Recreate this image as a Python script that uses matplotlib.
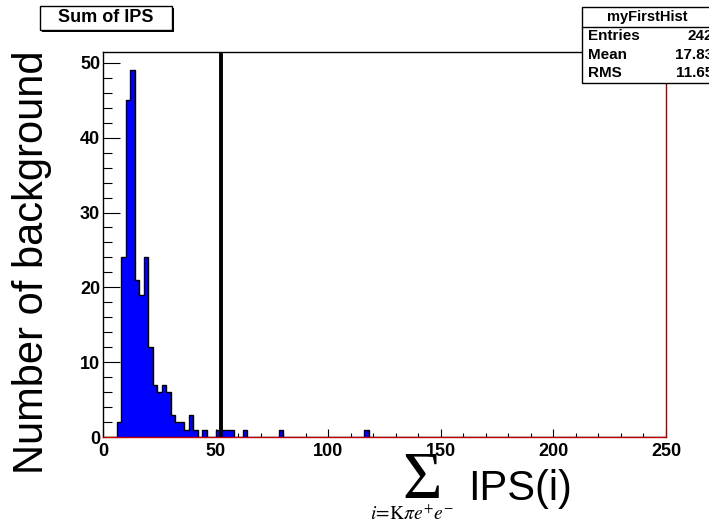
import matplotlib
matplotlib.use("Agg")
import matplotlib.pyplot as plt
import numpy as np
from matplotlib.patches import Rectangle
from matplotlib.ticker import MultipleLocator

# histogram: 125 bins of width 2 from 0 to 250
bin_edges = np.arange(0, 252, 2)
counts = np.zeros(125)
filled_bins = [6, 8, 10, 12, 14, 16, 18, 20, 22, 24, 26, 28, 30, 32, 34, 36, 38, 40,
               44, 50, 52, 54, 56, 62, 78, 116]
filled_counts = [2, 24, 45, 49, 21, 19, 24, 12, 7, 6, 7, 6, 3, 2, 2, 1, 3, 1,
                 1, 1, 1, 1, 1, 1, 1, 1]
for lo, c in zip(filled_bins, filled_counts):
    counts[lo // 2] = c

cut_value = 52.3
stats_names = ["Entries", "Mean", "RMS"]
stats_values = ["242", "17.83", "11.65"]

W, H = 709, 526
fig = plt.figure(figsize=(W / 100, H / 100), dpi=100)


def fx(px):
    return px / W


def fy(py):
    return 1 - py / H


sans = "Liberation Sans"
ax = fig.add_axes([fx(103), fy(437), fx(666) - fx(103), fy(52) - fy(437)])

ax.stairs(counts, bin_edges, fill=True, color="#0000ff", linewidth=0, zorder=2)
ax.stairs(counts, bin_edges, color="black", linewidth=1.0, zorder=3)
ax.plot([cut_value, cut_value], [0, 51.1], color="black", linewidth=2.8, zorder=4)

ax.set_xlim(0, 250)
ax.set_ylim(0, 51.45)
ax.xaxis.set_major_locator(MultipleLocator(50))
ax.xaxis.set_minor_locator(MultipleLocator(10))
ax.yaxis.set_major_locator(MultipleLocator(10))
ax.yaxis.set_minor_locator(MultipleLocator(2))
ax.tick_params(axis="x", which="major", direction="in", length=5.8, width=0.8, pad=4,
               labelsize=13)
ax.tick_params(axis="x", which="minor", direction="in", length=2.9, width=0.8)
ax.tick_params(axis="y", which="major", direction="in", length=12.2, width=0.8, pad=2,
               labelsize=13)
ax.tick_params(axis="y", which="minor", direction="in", length=6.4, width=0.8)
for lab in ax.get_xticklabels() + ax.get_yticklabels():
    lab.set_fontfamily(sans)
    lab.set_fontweight("bold")

ax.spines["left"].set_color("black")
ax.spines["top"].set_color("black")
ax.spines["right"].set_color("#a00000")
ax.spines["bottom"].set_color("#c00000")
for s in ax.spines.values():
    s.set_linewidth(1.0)
    s.set_zorder(5)

# axis titles
fig.text(fx(32), fy(262), "Number of background", rotation=90, ha="center", va="center",
         fontsize=30, family=sans)
fig.text(fx(422), fy(481), "\u03a3", ha="center", va="center", fontsize=49,
         family="Liberation Serif")
fig.text(fx(468), fy(500), "IPS(i)", ha="left", va="baseline", fontsize=30, family=sans)
plt.rcParams["mathtext.fontset"] = "stix"
fig.text(fx(412), fy(514), r"$i\!=\!\mathrm{K}\pi e^{+}e^{-}$", ha="center", va="center",
         fontsize=14)

# title box with shadow
fig.patches.append(Rectangle((fx(42), fy(32)), fx(172) - fx(40), fy(6) - fy(30),
                             transform=fig.transFigure, facecolor="black",
                             edgecolor="black", linewidth=0))
fig.patches.append(Rectangle((fx(40), fy(30)), fx(172) - fx(40), fy(6) - fy(30),
                             transform=fig.transFigure, facecolor="white",
                             edgecolor="black", linewidth=1.0))
fig.text(fx(106), fy(18), "Sum of IPS", ha="center", va="center", fontsize=13,
         family=sans, fontweight="bold")

# stats box
fig.patches.append(Rectangle((fx(582), fy(83)), fx(712) - fx(582), fy(7) - fy(83),
                             transform=fig.transFigure, facecolor="white",
                             edgecolor="black", linewidth=1.0, zorder=10))
fig.lines.append(plt.Line2D([fx(582), fx(712)], [fy(27), fy(27)],
                            transform=fig.transFigure, color="black", linewidth=1.0,
                            zorder=11))
fig.text(fx(647), fy(17), "myFirstHist", ha="center", va="center", fontsize=10.5,
         family=sans, fontweight="bold", zorder=12)
for i, (name, val) in enumerate(zip(stats_names, stats_values)):
    yy = fy(36 + 18.7 * i)
    fig.text(fx(588), yy, name, ha="left", va="center", fontsize=11, family=sans,
             fontweight="bold", zorder=12)
    fig.text(fx(713), yy, val, ha="right", va="center", fontsize=11, family=sans,
             fontweight="bold", zorder=12)

fig.savefig("out.png", dpi=100)
